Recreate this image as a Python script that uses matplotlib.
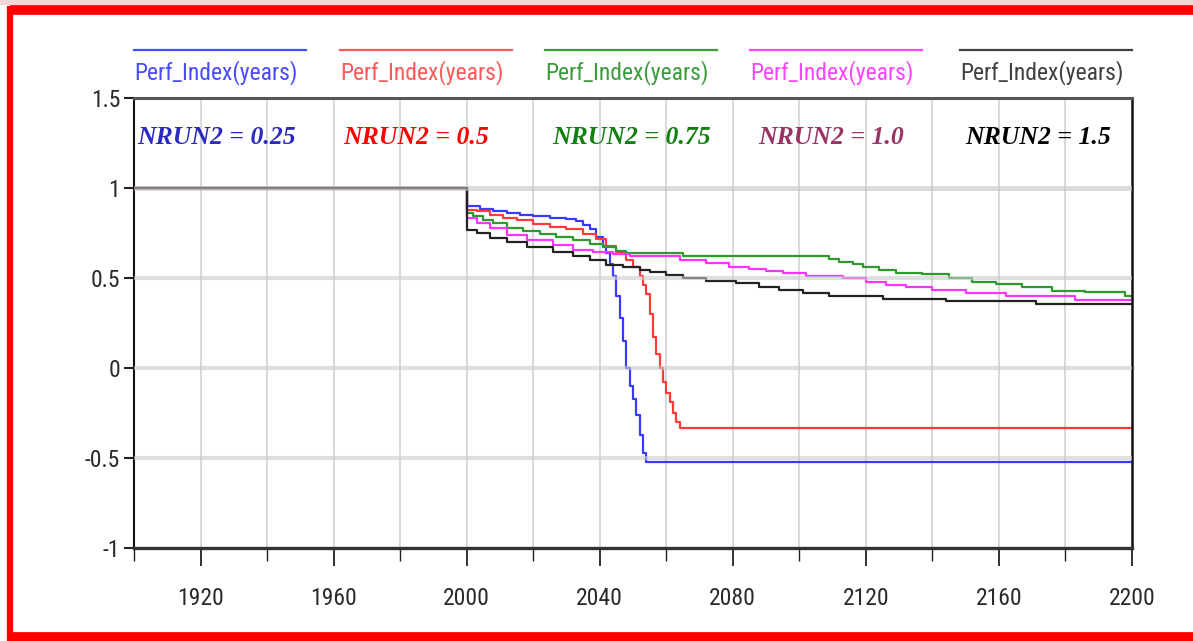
import matplotlib
matplotlib.use("Agg")
import matplotlib.pyplot as plt
from matplotlib.lines import Line2D
from matplotlib.patches import Rectangle
from matplotlib import font_manager as fm
from matplotlib.ticker import MultipleLocator

# ----------------------------
# DATA
# ----------------------------

years_025 = [1900, 2000, 2004, 2008, 2012, 2016, 2020, 2025, 2030, 2033, 2035, 2037, 2039,
             2041, 2042, 2043, 2044, 2045, 2046, 2047, 2048, 2049, 2050, 2051, 2052, 2053,
             2054, 2200]
perf_025 = [1.0, 0.90, 0.885, 0.872, 0.862, 0.850, 0.842, 0.835, 0.828, 0.815, 0.795, 0.77,
            0.73, 0.68, 0.64, 0.58, 0.51, 0.40, 0.28, 0.15, 0.00, -0.10, -0.17, -0.26, -0.37,
            -0.47, -0.52, -0.52]

years_05 = [1900, 2000, 2003, 2007, 2011, 2015, 2020, 2025, 2030, 2035, 2039, 2042, 2045,
            2048, 2050, 2052, 2053, 2054, 2055, 2056, 2057, 2058, 2059, 2060, 2061, 2062,
            2063, 2064, 2200]
perf_05 = [1.0, 0.88, 0.87, 0.85, 0.835, 0.82, 0.80, 0.785, 0.77, 0.745, 0.715, 0.68, 0.645,
           0.60, 0.56, 0.51, 0.46, 0.41, 0.30, 0.17, 0.08, 0.00, -0.08, -0.14, -0.19, -0.25,
           -0.30, -0.335, -0.335]

years_075 = [1900, 2000, 2002, 2005, 2008, 2012, 2017, 2022, 2027, 2032, 2037, 2041, 2045,
             2048, 2065, 2109, 2112, 2116, 2119, 2124, 2129, 2137, 2145, 2152, 2159, 2167,
             2176, 2186, 2198, 2200]
perf_075 = [1.0, 0.863, 0.845, 0.825, 0.805, 0.78, 0.76, 0.745, 0.73, 0.71, 0.69, 0.67, 0.65,
            0.64, 0.625, 0.605, 0.59, 0.578, 0.56, 0.545, 0.53, 0.52, 0.50, 0.48, 0.465, 0.45,
            0.43, 0.42, 0.40, 0.40]

years_10 = [1900, 2000, 2003, 2007, 2012, 2018, 2026, 2032, 2038, 2044, 2049, 2064, 2072,
            2079, 2085, 2090, 2095, 2102, 2113, 2120, 2126, 2132, 2140, 2150, 2162, 2183, 2200]
perf_10 = [1.0, 0.833, 0.805, 0.777, 0.74, 0.71, 0.683, 0.655, 0.645, 0.635, 0.625, 0.60,
           0.583, 0.563, 0.55, 0.54, 0.527, 0.513, 0.50, 0.48, 0.463, 0.45, 0.433, 0.415,
           0.40, 0.38, 0.38]

years_15 = [1900, 2000, 2003, 2007, 2012, 2018, 2026, 2032, 2037, 2042, 2047, 2052, 2055,
            2060, 2065, 2072, 2081, 2088, 2094, 2101, 2109, 2125, 2144, 2171, 2200]
perf_15 = [1.0, 0.767, 0.75, 0.72, 0.70, 0.674, 0.647, 0.62, 0.60, 0.575, 0.56, 0.545, 0.535,
           0.517, 0.50, 0.483, 0.47, 0.45, 0.433, 0.415, 0.40, 0.385, 0.37, 0.355, 0.355]

run_labels = ["NRUN2 = 0.25", "NRUN2 = 0.5", "NRUN2 = 0.75", "NRUN2 = 1.0", "NRUN2 = 1.5"]
legend_text = "Perf_Index(years)"
x_ticks = [1920, 1960, 2000, 2040, 2080, 2120, 2160, 2200]
y_ticks = [-1, -0.5, 0, 0.5, 1, 1.5]
y_tick_labels = ["-1", "-0.5", "0", "0.5", "1", "1.5"]

series = [(years_025, perf_025), (years_05, perf_05), (years_075, perf_075),
          (years_10, perf_10), (years_15, perf_15)]
line_colors = ["#3a3aff", "#ff3a3a", "#2e9a2e", "#ff33ff", "#222222"]
legend_colors = ["#4a4aff", "#ff5a5a", "#3c9c3c", "#ff44ff", "#404040"]
label_colors = ["#2a2ac0", "#ff0000", "#118011", "#993366", "#000000"]

# ----------------------------
# FONTS
# ----------------------------

# narrow sans if one is around, the chart was drawn with a condensed face
names = {f.name for f in fm.fontManager.ttflist}
sans, sans_size = "Liberation Sans", 14.5
for cand in ["Liberation Sans Narrow", "Roboto Condensed", "Open Sans Condensed",
             "Noto Sans Condensed"]:
    if cand in names:
        sans, sans_size = cand, 17
        break
serif = "Liberation Serif"

# ----------------------------
# FIGURE
# ----------------------------

W, H = 1193, 641
fig = plt.figure(figsize=(W / 100, H / 100), dpi=100)

def fx(px):
    return px / W

def fy(py):
    return 1 - py / H

ax = fig.add_axes([fx(134), fy(548), fx(1132) - fx(134), fy(98) - fy(548)])

for (yrs, vals), c in zip(series, line_colors):
    ax.plot(yrs, vals, drawstyle="steps-post", color=c, lw=1.6, zorder=2)

ax.set_xlim(1900, 2200)
ax.set_ylim(-1, 1.5)

# grid
for xv in range(1920, 2200, 20):
    ax.axvline(xv, color="#d2d2d2", lw=1.2, zorder=1)
for yv in [-0.5, 0, 0.5]:
    ax.axhline(yv, color="#cacaca", lw=3, alpha=0.6, zorder=3)
ax.axhline(1, color="#c4c4c4", lw=3.6, alpha=0.6, zorder=3)

# ticks
ax.set_xticks(x_ticks)
ax.xaxis.set_minor_locator(MultipleLocator(20))
ax.set_yticks(y_ticks)
ax.set_yticklabels(y_tick_labels)
ax.tick_params(axis="x", which="major", length=13, width=1.3, pad=15, color="#222222")
ax.tick_params(axis="x", which="minor", length=9, width=1.0, color="#222222")
ax.tick_params(axis="y", length=7, width=1.5, pad=3, color="#222222")
for lab in ax.get_xticklabels() + ax.get_yticklabels():
    lab.set_fontfamily(sans)
    lab.set_fontsize(sans_size)
    lab.set_color("#2a2a2a")

ax.spines["left"].set_linewidth(1.5)
ax.spines["left"].set_color("#111111")
ax.spines["right"].set_linewidth(1.8)
ax.spines["right"].set_color("#111111")
ax.spines["top"].set_linewidth(2.2)
ax.spines["top"].set_color("#555555")
ax.spines["bottom"].set_linewidth(2.4)
ax.spines["bottom"].set_color("#333333")

# run labels inside the plot
label_x = [137, 343, 552, 758, 965]
for txt, c, px in zip(run_labels, label_colors, label_x):
    ax.text((px - 134) / 998, (548 - 137) / 450, txt, transform=ax.transAxes,
            ha="left", va="center", color=c, fontfamily=serif, fontweight="bold",
            fontstyle="italic", fontsize=18.5)

# legend above the plot: line with text underneath
leg_x0 = [134, 340, 545, 750, 960]
leg_len = 172
for x0, c in zip(leg_x0, legend_colors):
    fig.add_artist(Line2D([fx(x0), fx(x0 + leg_len)], [fy(50), fy(50)],
                          transform=fig.transFigure, color=c, lw=1.6))
    fig.text(fx(x0 + leg_len / 2 - 4), fy(73), legend_text, ha="center", va="center",
             color=c, fontfamily=sans, fontsize=sans_size)

# red frame around the picture
fig.add_artist(Rectangle((0, fy(5)), 1, fy(0) - fy(5), transform=fig.transFigure,
                         facecolor="#f6d6d6", edgecolor="none"))
fig.add_artist(Line2D([fx(10), 1], [fy(10), fy(10)], transform=fig.transFigure,
                      color="#ff0000", lw=7, solid_capstyle="butt"))
fig.add_artist(Line2D([fx(10), fx(10)], [fy(6), fy(641)], transform=fig.transFigure,
                      color="#ff0000", lw=4.5, solid_capstyle="butt"))
fig.add_artist(Line2D([fx(8), 1], [fy(637), fy(637)], transform=fig.transFigure,
                      color="#ff0000", lw=7, solid_capstyle="butt"))

fig.savefig("out.png", dpi=100)
